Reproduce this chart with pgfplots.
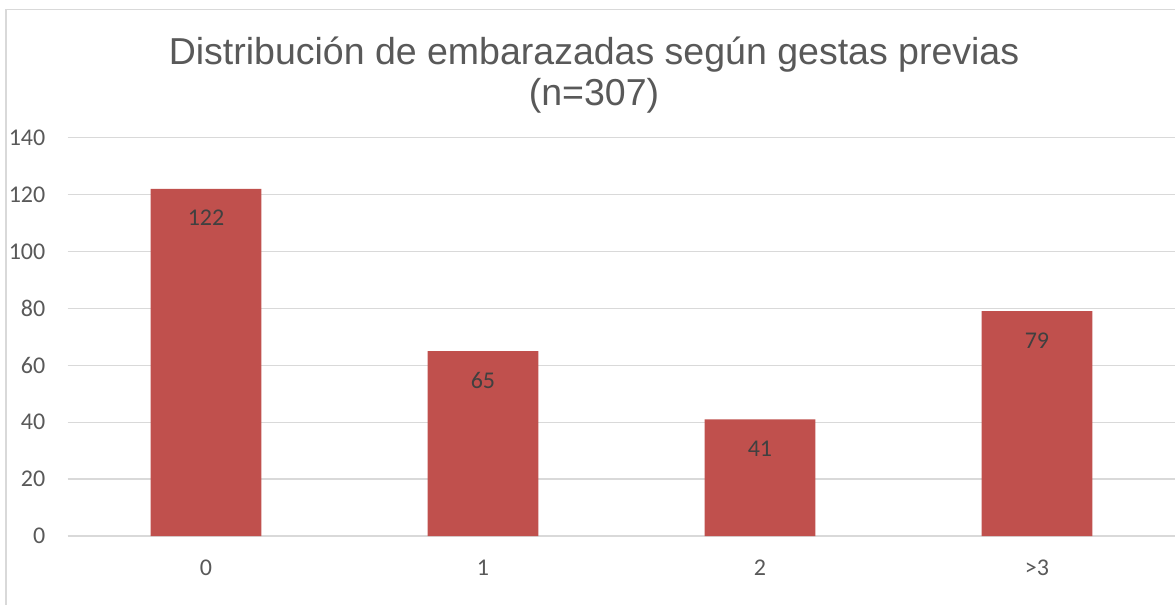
\documentclass[border=0pt]{standalone}
\usepackage{pgfplots}
\pgfplotsset{compat=1.18}
\usepackage{fontspec}
\setmainfont{Carlito}
\newfontfamily\titlefont{Liberation Sans}
\definecolor{barred}{HTML}{C0504D}
\definecolor{txtgray}{HTML}{595959}
\definecolor{lblgray}{HTML}{404040}
\definecolor{gridgray}{HTML}{D9D9D9}
\begin{document}
\begin{tikzpicture}
\path[use as bounding box] (0,0) rectangle (1175bp,605bp);
\clip (0,0) rectangle (1175bp,605bp);
\fill[white] (0,0) rectangle (1175bp,605bp);
\draw[gridgray, line width=1.5bp] (5.8bp,-20bp) rectangle (1190bp,595.5bp);
\node[anchor=base, text=txtgray, font=\titlefont\fontsize{37.5bp}{45bp}\selectfont, inner sep=0pt] at (594bp,540bp) {Distribución de embarazadas según gestas previas};
\node[anchor=base, text=txtgray, font=\titlefont\fontsize{37.5bp}{45bp}\selectfont, inner sep=0pt] at (594bp,499bp) {(n=307)};
\begin{axis}[
  at={(67.5bp,69bp)}, anchor=south west,
  scale only axis,
  width=1108bp, height=398.3bp,
  xmin=-0.5, xmax=3.5,
  ymin=0, ymax=140,
  ytick={0,20,...,140},
  xtick=data,
  xticklabels={0,1,2,>3},
  ymajorgrids,
  grid style={gridgray, line width=1.2bp},
  axis line style={draw=none},
  major tick style={draw=none},
  /pgf/number format/assume math mode=true,
  tick label style={font=\fontsize{24bp}{28bp}\selectfont, text=txtgray},
  yticklabel style={anchor=east, inner sep=0pt, xshift=-22bp},
  xticklabel style={anchor=center, inner sep=0pt, yshift=-32bp},
  clip=false,
]
\addplot[ybar, bar width=0.4, fill=barred, draw=none,
  nodes near coords,
  every node near coord/.append style={anchor=center, inner sep=0pt, yshift=-29bp, text=lblgray, font=\fontsize{24bp}{28bp}\selectfont}]
  coordinates {(0,122) (1,65) (2,41) (3,79)};
\end{axis}
\end{tikzpicture}
\end{document}
